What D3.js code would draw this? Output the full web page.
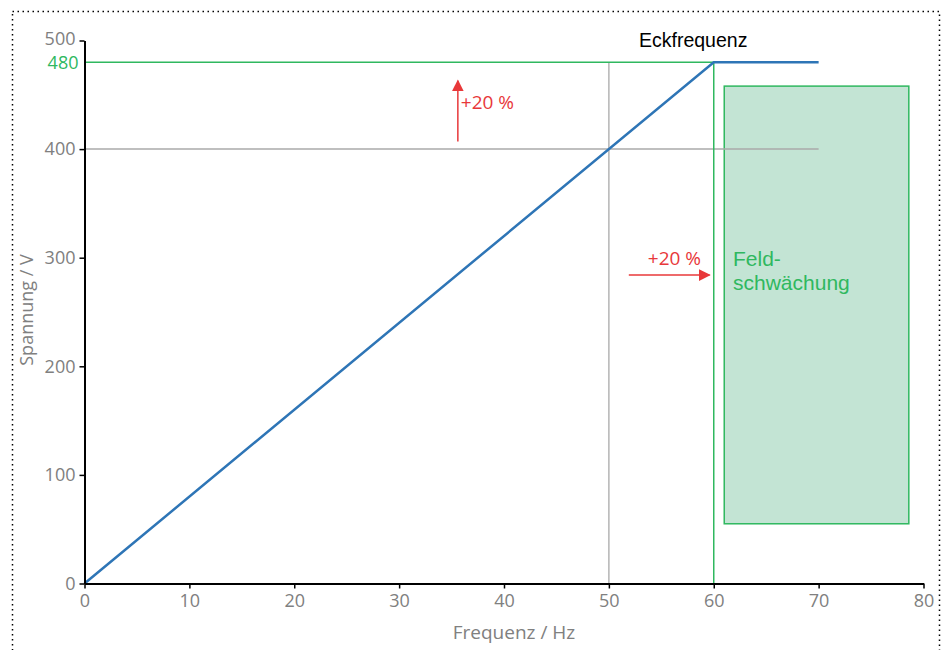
<!DOCTYPE html>
<html><head><meta charset="utf-8">
<script src="https://cdn.jsdelivr.net/npm/d3@7"></script>
<style>body{margin:0;background:#fff}svg{display:block}</style>
</head><body><svg id="c" width="949" height="650"></svg>
<script>
const xTicks = [0,10,20,30,40,50,60,70,80];
const yTicks = [0,100,200,300,400,500];
const lineFreq = [0,60,70];
const lineVolt = [0,480,480];
const nominalFreq = 50, nominalVolt = 400, cornerFreq = 60, cornerVolt = 480;
const greenHEnd = 65, greyHEnd = 70;
const fieldBox = {x0:61, x1:78.6, y0:55, y1:458};
const upArrow = {f:35.6, v0:407, v1:463};
const rightArrow = {v:284, f0:51.9, f1:59.6};

const svg = d3.select("#c");
const x = d3.scaleLinear().domain([0,80]).range([84.5,923.5]);
const y = d3.scaleLinear().domain([0,500]).range([583.5,40.5]);
const font = "'Open Sans', 'Noto Sans', sans-serif";
const red = "#e8383a", green = "#2fb85f", grey = "#808080";

// dotted frame
svg.append("rect").attr("x",12.5).attr("y",11.5).attr("width",927).attr("height",660)
  .attr("fill","none").attr("stroke","#000").attr("stroke-width",1.5).attr("stroke-dasharray","1.5,3.5");

// field box
svg.append("rect").attr("x",x(fieldBox.x0)).attr("y",y(fieldBox.y1))
  .attr("width",x(fieldBox.x1)-x(fieldBox.x0)).attr("height",y(fieldBox.y0)-y(fieldBox.y1))
  .attr("fill","#c3e4d4").attr("stroke",green).attr("stroke-width",1.5);

// guide lines
svg.append("line").attr("x1",x(0)).attr("x2",x(greyHEnd)).attr("y1",y(nominalVolt)).attr("y2",y(nominalVolt)).attr("stroke","#aaa").attr("stroke-width",1.5);
svg.append("line").attr("x1",x(nominalFreq)).attr("x2",x(nominalFreq)).attr("y1",y(0)).attr("y2",y(cornerVolt)).attr("stroke","#b4b4b4").attr("stroke-width",1.5);
svg.append("line").attr("x1",x(0)).attr("x2",x(greenHEnd)).attr("y1",y(cornerVolt)).attr("y2",y(cornerVolt)).attr("stroke",green).attr("stroke-width",1.5);
svg.append("line").attr("x1",x(cornerFreq)).attr("x2",x(cornerFreq)).attr("y1",y(0)).attr("y2",y(cornerVolt)).attr("stroke",green).attr("stroke-width",1.5);

// main line
svg.append("path").datum(lineFreq.map((f,i)=>[f,lineVolt[i]]))
  .attr("d",d3.line().x(d=>x(d[0])).y(d=>y(d[1])))
  .attr("fill","none").attr("stroke","#2e75b6").attr("stroke-width",2.5);

// axes
const xAxis = svg.append("g").attr("transform",`translate(0,${y(0)})`)
  .call(d3.axisBottom(x).tickValues(xTicks).tickSize(5).tickSizeOuter(0).tickPadding(6));
const yAxis = svg.append("g").attr("transform",`translate(${x(0)},0)`)
  .call(d3.axisLeft(y).tickValues(yTicks).tickSize(5).tickSizeOuter(0).tickPadding(4));
[xAxis,yAxis].forEach(g=>{
  g.select(".domain").attr("stroke","#000").attr("stroke-width",2);
  g.selectAll(".tick line").attr("stroke","#000").attr("stroke-width",1.5);
  g.selectAll("text").attr("fill",grey).attr("font-family",font).attr("font-size",18);
});
yAxis.selectAll(".tick text").filter(d=>d===500).attr("dy","0.2em");
// 480 label
svg.append("text").attr("x",x(0)-6).attr("y",y(cornerVolt)).attr("dy","0.4em").attr("text-anchor","end")
  .attr("fill",green).attr("font-family",font).attr("font-size",18).text(cornerVolt);

// axis titles
svg.append("text").attr("x",514).attr("y",639).attr("text-anchor","middle").attr("fill",grey)
  .attr("font-family",font).attr("font-size",19).text("Frequenz / Hz");
svg.append("text").attr("transform","translate(33,310) rotate(-90)").attr("text-anchor","middle").attr("fill",grey)
  .attr("font-family",font).attr("font-size",18).text("Spannung / V");

// arrows
const defs = svg.append("defs");
defs.append("marker").attr("id","ah").attr("viewBox","0 0 10 10").attr("refX",9).attr("refY",5)
  .attr("markerWidth",12).attr("markerHeight",12).attr("markerUnits","userSpaceOnUse").attr("orient","auto")
  .append("path").attr("d","M0,0 L10,5 L0,10 Z").attr("fill",red);
svg.append("line").attr("x1",x(upArrow.f)).attr("x2",x(upArrow.f)).attr("y1",y(upArrow.v0)).attr("y2",y(upArrow.v1))
  .attr("stroke",red).attr("stroke-width",1.5).attr("marker-end","url(#ah)");
svg.append("line").attr("x1",x(rightArrow.f0)).attr("x2",x(rightArrow.f1)).attr("y1",y(rightArrow.v)).attr("y2",y(rightArrow.v))
  .attr("stroke",red).attr("stroke-width",1.5).attr("marker-end","url(#ah)");
svg.append("text").attr("x",x(upArrow.f)+3).attr("y",109).attr("fill",red).attr("font-family",font).attr("font-size",19).text("+20 %");
svg.append("text").attr("x",701).attr("y",265).attr("text-anchor","end").attr("fill",red).attr("font-family",font).attr("font-size",19).text("+20 %");

// labels
svg.append("text").attr("x",639).attr("y",47).attr("fill","#000").attr("font-family","'Liberation Sans', sans-serif").attr("font-size",19.5).text("Eckfrequenz");
const fl = svg.append("text").attr("fill",green).attr("font-family","'Liberation Sans', Arial, sans-serif").attr("font-size",21);
fl.append("tspan").attr("x",733).attr("y",266).text("Feld-");
fl.append("tspan").attr("x",733).attr("y",290).text("schwächung");
</script></body></html>
